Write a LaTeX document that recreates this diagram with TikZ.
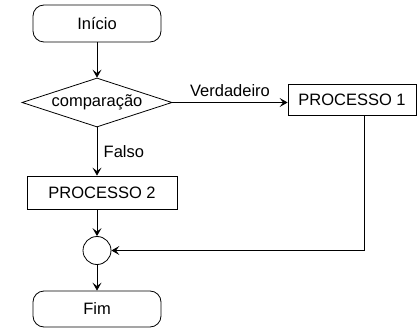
\documentclass[tikz,border=0pt]{standalone}
\usepackage{fontspec}
\setmainfont{Liberation Sans}
\usetikzlibrary{shapes.geometric,arrows.meta}
\begin{document}
\begin{tikzpicture}[x=1pt,y=-1pt,
  font=\fontsize{16.5}{19}\selectfont,
  every path/.style={line width=0.8pt},
  terminal/.style={draw,rounded corners=11pt,minimum width=128pt,minimum height=37pt,inner sep=0pt},
  decision/.style={draw,diamond,shape aspect=3.06,inner sep=0pt,minimum width=150pt,minimum height=49pt},
  procbox/.style={draw,rectangle,inner sep=0pt},
  joint/.style={draw,circle,minimum size=28pt,inner sep=0pt},
  flow/.style={-{Stealth[length=8pt,width=9pt,inset=3.5pt]}}
]
\useasboundingbox (0,0) rectangle (419,328);

% nodes
\node[terminal] (inicio) at (97,23.5) {Início};
\node[decision] (cmp) at (97,102.5) {comparação};
\node[procbox,minimum width=128pt,minimum height=31pt] (p1) at (352,99.5) {PROCESSO 1};
\node[procbox,minimum width=150pt,minimum height=33pt] (p2) at (102,192.5) {PROCESSO 2\hspace{9pt}};
\node[joint] (j) at (97,250.5) {};
\node[terminal,minimum height=36pt] (fim) at (97,309) {Fim};

% connectors
\draw[flow] (inicio.south) -- (cmp.north);
\draw[flow] (cmp.east) -- (cmp.east -| p1.west)
  node[midway,above=2pt] {Verdadeiro};
\draw[flow] (cmp.south) -- (cmp.south |- p2.north)
  node[midway,right=3pt] {Falso};
\draw[flow] (p2.south -| j.north) -- (j.north);
\draw[flow] ([xshift=12pt]p1.south) |- (j.east);
\draw[flow] (j.south) -- (fim.north);
\end{tikzpicture}
\end{document}
